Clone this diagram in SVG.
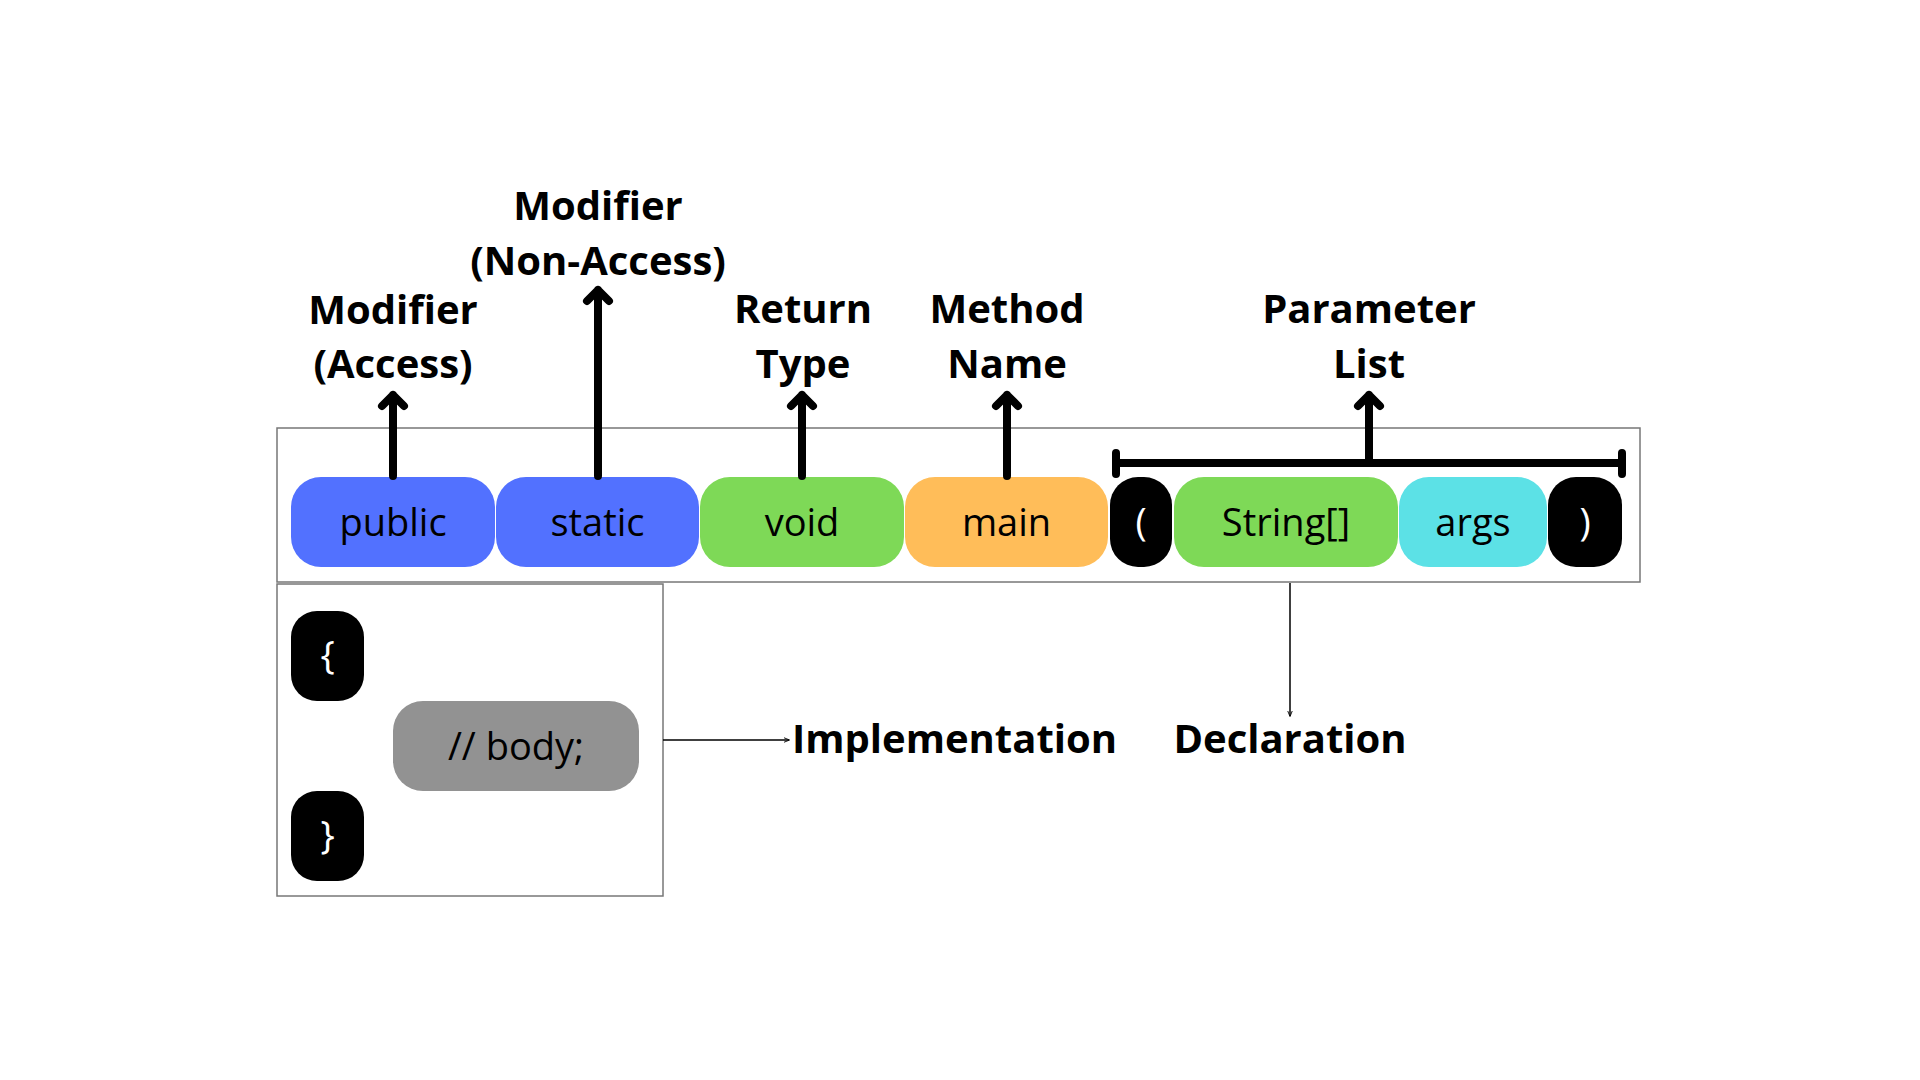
<svg xmlns="http://www.w3.org/2000/svg" width="1920" height="1080" viewBox="0 0 1920 1080">
<style>
.lbl{font-family:"Open Sans","Liberation Sans",sans-serif;font-weight:700;font-size:40px;fill:#000;text-anchor:middle}
.tok{font-family:"Open Sans","Liberation Sans",sans-serif;font-size:38px;fill:#000;text-anchor:middle}
.wt{fill:#fff}
.frame{fill:none;stroke:#777;stroke-width:1.5}
.thick{fill:none;stroke:#000;stroke-width:8;stroke-linecap:round;stroke-linejoin:round}
.thin{fill:none;stroke:#000;stroke-width:1.5}
</style>
<defs>
<marker id="ah" viewBox="0 0 10 10" refX="9" refY="5" markerWidth="6" markerHeight="6" orient="auto" markerUnits="userSpaceOnUse">
<path d="M0,1 L10,5 L0,9" fill="none" stroke="#000" stroke-width="1.5"/>
</marker>
</defs>
<rect width="1920" height="1080" fill="#fff"/>

<g id="declaration-box"><rect class="frame" x="277" y="428" width="1363" height="154"/></g>
<g id="implementation-box"><rect class="frame" x="277" y="584" width="386" height="312" stroke="#555"/></g>

<g id="public"><rect x="291" y="477" width="204" height="90" rx="30" fill="#5271FF"/><text class="tok" x="393" y="536">public</text></g>
<g id="static"><rect x="496" y="477" width="203" height="90" rx="30" fill="#5271FF"/><text class="tok" x="597.5" y="536">static</text></g>
<g id="void"><rect x="700" y="477" width="204" height="90" rx="30" fill="#7ED957"/><text class="tok" x="802" y="536">void</text></g>
<g id="main"><rect x="905" y="477" width="203" height="90" rx="30" fill="#FFBD59"/><text class="tok" x="1006.5" y="536">main</text></g>
<g id="lparen"><rect x="1110" y="477" width="62" height="90" rx="28" fill="#000"/><text class="tok wt" x="1141" y="536">(</text></g>
<g id="string"><rect x="1174" y="477" width="224" height="90" rx="30" fill="#7ED957"/><text class="tok" x="1286" y="536">String[]</text></g>
<g id="args"><rect x="1399" y="477" width="148" height="90" rx="30" fill="#5CE1E6"/><text class="tok" x="1473" y="536">args</text></g>
<g id="rparen"><rect x="1548" y="477" width="74" height="90" rx="28" fill="#000"/><text class="tok wt" x="1585" y="536">)</text></g>

<g id="lbrace"><rect x="291" y="611" width="73" height="90" rx="26" fill="#000"/><text class="tok wt" x="327.5" y="669" font-size="34">{</text></g>
<g id="body"><rect x="393" y="701" width="246" height="90" rx="30" fill="#929292"/><text class="tok" x="516" y="760">// body;</text></g>
<g id="rbrace"><rect x="291" y="791" width="73" height="90" rx="26" fill="#000"/><text class="tok wt" x="327.5" y="849" font-size="34">}</text></g>

<g id="label-access"><text class="lbl" x="393" y="324">Modifier</text><text class="lbl" x="393" y="378">(Access)</text></g>
<g id="label-nonaccess"><text class="lbl" x="598" y="220">Modifier</text><text class="lbl" x="598" y="275">(Non-Access)</text></g>
<g id="label-return"><text class="lbl" x="803" y="323">Return</text><text class="lbl" x="803" y="378">Type</text></g>
<g id="label-method"><text class="lbl" x="1007" y="323">Method</text><text class="lbl" x="1007" y="378">Name</text></g>
<g id="label-params"><text class="lbl" x="1369" y="323">Parameter</text><text class="lbl" x="1369" y="378">List</text></g>
<g id="label-impl"><text class="lbl" x="792" y="753" style="text-anchor:start" font-size="39">Implementation</text></g>
<g id="label-decl"><text class="lbl" x="1290" y="753" font-size="39">Declaration</text></g>

<g id="connectors">
<path class="thick" d="M393,476 V395 M382,406 L393,395 L404,406"/>
<path class="thick" d="M598,476 V290 M587,301 L598,290 L609,301"/>
<path class="thick" d="M802,476 V395 M791,406 L802,395 L813,406"/>
<path class="thick" d="M1007,476 V395 M996,406 L1007,395 L1018,406"/>
<path class="thick" d="M1116,453 V474 M1622,453 V474 M1116,463 H1622 M1369,463 V395 M1358,406 L1369,395 L1380,406"/>
<line class="thin" x1="1290" y1="583" x2="1290" y2="716" marker-end="url(#ah)"/>
<line class="thin" x1="663" y1="740" x2="789" y2="740" marker-end="url(#ah)"/>
</g>
</svg>
